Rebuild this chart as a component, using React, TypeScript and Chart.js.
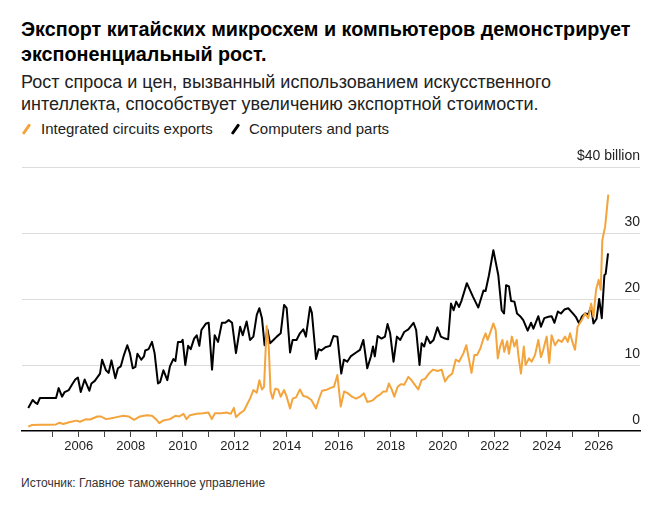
import React, { useEffect, useRef } from 'react';
import { Chart, registerables } from 'chart.js';

Chart.register(...registerables);

// Integrated circuits exports ($bn), x = decimal year
const icYears = [
  2004.06, 2004.19, 2004.51, 2004.8, 2005.13, 2005.26, 2005.41, 2005.67, 2005.92, 2006.05,
  2006.26, 2006.44, 2006.72, 2006.85, 2007.05, 2007.21, 2007.46, 2007.72, 2007.92, 2008.13,
  2008.36, 2008.62, 2008.82, 2008.97, 2009.1, 2009.26, 2009.51, 2009.72, 2009.87, 2010.03,
  2010.15, 2010.28, 2010.54, 2010.79, 2010.99, 2011.12, 2011.24, 2011.5, 2011.69, 2011.85,
  2011.97, 2012.05, 2012.21, 2012.36, 2012.5, 2012.59, 2012.72, 2012.85, 2012.95, 2013.05,
  2013.13, 2013.23, 2013.31, 2013.38, 2013.46, 2013.56, 2013.67, 2013.77, 2013.9, 2014.0,
  2014.13, 2014.23, 2014.36, 2014.51, 2014.64, 2014.77, 2014.95, 2015.13, 2015.23, 2015.36,
  2015.51, 2015.67, 2015.82, 2015.95, 2016.08, 2016.21, 2016.36, 2016.51, 2016.67, 2016.82,
  2016.97, 2017.1, 2017.29, 2017.46, 2017.59, 2017.72, 2017.84, 2017.93, 2018.04, 2018.14,
  2018.27, 2018.39, 2018.52, 2018.68, 2018.8, 2018.93, 2019.06, 2019.19, 2019.32, 2019.47,
  2019.63, 2019.8, 2019.96, 2020.09, 2020.21, 2020.37, 2020.5, 2020.63, 2020.8, 2020.91,
  2021.01, 2021.11, 2021.22, 2021.32, 2021.45, 2021.55, 2021.65, 2021.73, 2021.82, 2021.95,
  2022.04, 2022.12, 2022.21, 2022.3, 2022.37, 2022.48, 2022.55, 2022.66, 2022.76, 2022.85,
  2022.91, 2023.01, 2023.12, 2023.19, 2023.32, 2023.42, 2023.55, 2023.68, 2023.78, 2023.87,
  2024.0, 2024.1, 2024.19, 2024.32, 2024.45, 2024.58, 2024.71, 2024.81, 2024.9, 2024.99,
  2025.09, 2025.19, 2025.35, 2025.48, 2025.6, 2025.71, 2025.8, 2025.9, 2026.0, 2026.08,
  2026.14, 2026.25, 2026.37,
];
const icValues = [
  0.66, 0.9, 0.95, 0.95, 1.0, 1.26, 1.06, 1.36, 1.57, 1.4,
  1.77, 1.75, 2.2, 2.2, 1.8, 1.9, 2.1, 2.3, 2.2, 1.7,
  2.2, 2.4, 2.3, 1.8, 1.2, 1.6, 1.8, 2.3, 2.2, 2.6,
  1.8, 2.4, 2.6, 2.7, 2.8, 1.8, 2.7, 2.7, 2.8, 2.6,
  3.5, 2.1, 2.7, 3.1, 4.2, 4.9, 6.2, 5.8, 7.7, 6.3,
  6.7, 15.9, 12.8, 6.0, 4.9, 6.4, 6.3, 5.2, 6.2, 5.2,
  3.4, 4.9, 5.1, 6.3, 5.3, 5.2, 4.7, 3.4, 4.7, 6.1,
  6.2, 6.5, 6.7, 8.5, 3.7, 6.0, 5.7, 5.2, 4.9, 5.2,
  5.7, 4.4, 4.6, 5.2, 5.5, 6.0, 6.0, 7.2, 6.3, 5.2,
  6.7, 7.1, 7.0, 8.2, 7.7, 7.0, 6.3, 7.7, 7.9, 8.7,
  9.3, 9.1, 9.3, 7.5, 8.2, 8.7, 10.8, 10.5, 11.8, 13.0,
  10.9, 8.8, 11.5, 11.5, 12.5, 13.8, 14.8, 13.8, 14.8, 16.3,
  15.3, 11.0, 12.8, 13.8, 12.0, 13.6, 11.7, 14.3, 12.8, 13.8,
  11.5, 8.7, 12.8, 10.0, 11.0, 10.5, 11.5, 13.8, 11.2, 12.3,
  14.3, 10.3, 14.5, 13.0, 13.8, 13.5, 14.3, 13.5, 14.8, 13.5,
  12.3, 15.8, 16.8, 17.8, 17.1, 19.3, 17.3, 21.4, 22.9, 21.4,
  28.9, 31.0, 35.8,
];

// Computers and parts ($bn)
const compYears = [
  2004.06, 2004.23, 2004.33, 2004.41, 2004.51, 2005.13, 2005.23, 2005.36, 2005.46, 2005.62,
  2005.74, 2005.87, 2005.97, 2006.08, 2006.23, 2006.41, 2006.49, 2006.62, 2006.82, 2006.9,
  2007.05, 2007.15, 2007.26, 2007.41, 2007.51, 2007.62, 2007.74, 2007.87, 2007.97, 2008.08,
  2008.18, 2008.26, 2008.41, 2008.51, 2008.56, 2008.69, 2008.82, 2008.92, 2009.05, 2009.13,
  2009.26, 2009.41, 2009.51, 2009.64, 2009.72, 2009.82, 2009.95, 2010.0, 2010.1, 2010.21,
  2010.31, 2010.44, 2010.54, 2010.64, 2010.72, 2010.9, 2011.0, 2011.13, 2011.23, 2011.36,
  2011.51, 2011.64, 2011.77, 2011.9, 2012.05, 2012.21, 2012.31, 2012.46, 2012.59, 2012.72,
  2012.85, 2012.95, 2013.05, 2013.15, 2013.26, 2013.36, 2013.49, 2013.62, 2013.77, 2013.9,
  2014.0, 2014.13, 2014.23, 2014.38, 2014.51, 2014.64, 2014.74, 2014.9, 2014.97, 2015.13,
  2015.23, 2015.33, 2015.49, 2015.67, 2015.8, 2015.95, 2016.1, 2016.2, 2016.33, 2016.46,
  2016.67, 2016.82, 2016.95, 2017.1, 2017.24, 2017.32, 2017.39, 2017.5, 2017.65, 2017.78,
  2017.88, 2017.98, 2018.11, 2018.24, 2018.37, 2018.52, 2018.68, 2018.88, 2018.98, 2019.11,
  2019.19, 2019.29, 2019.39, 2019.52, 2019.65, 2019.8, 2019.93, 2020.09, 2020.21, 2020.32,
  2020.42, 2020.52, 2020.63, 2020.73, 2020.93, 2021.16, 2021.37, 2021.57, 2021.65, 2021.78,
  2021.95, 2022.14, 2022.27, 2022.36, 2022.44, 2022.55, 2022.63, 2022.76, 2022.86, 2022.98,
  2023.1, 2023.27, 2023.4, 2023.49, 2023.68, 2023.78, 2023.91, 2024.07, 2024.19, 2024.3,
  2024.43, 2024.55, 2024.68, 2024.83, 2024.99, 2025.12, 2025.25, 2025.35, 2025.48, 2025.6,
  2025.71, 2025.8, 2025.92, 2026.02, 2026.12, 2026.22, 2026.27, 2026.36,
];
const compValues = [
  3.5, 4.7, 4.3, 4.1, 5.0, 5.0, 6.5, 5.2, 5.9, 6.2,
  7.0, 7.8, 8.1, 5.9, 7.8, 6.1, 7.2, 7.6, 8.7, 10.8,
  9.2, 8.8, 10.7, 8.0, 9.5, 9.8, 11.5, 13.0, 11.8, 9.5,
  9.7, 11.7, 10.8, 11.3, 12.2, 12.4, 13.5, 11.8, 7.2, 7.4,
  9.2, 7.7, 9.8, 10.9, 10.6, 13.5, 13.5, 13.8, 10.0, 12.9,
  12.4, 14.0, 14.5, 12.9, 15.3, 16.3, 16.4, 9.3, 14.5, 13.5,
  16.4, 16.4, 16.8, 16.4, 11.8, 15.8, 14.5, 16.6, 13.8, 14.3,
  17.6, 18.6, 17.1, 13.0, 15.4, 13.3, 13.8, 14.3, 14.8, 19.1,
  18.6, 11.9, 13.8, 13.8, 14.8, 15.4, 14.3, 18.8, 17.9, 10.9,
  12.4, 12.2, 12.7, 12.9, 14.4, 14.3, 8.7, 10.8, 10.5, 11.3,
  11.9, 12.3, 13.8, 9.5, 11.3, 12.8, 11.3, 14.4, 14.0, 14.3,
  16.2, 14.8, 10.5, 14.3, 13.8, 15.0, 15.4, 16.4, 15.3, 10.0,
  13.3, 12.8, 14.3, 13.3, 13.8, 15.7, 14.3, 14.0, 13.9, 19.3,
  18.3, 19.6, 18.8, 19.8, 22.4, 20.4, 18.7, 21.3, 21.2, 23.6,
  27.4, 23.6, 18.3, 17.8, 22.1, 21.9, 19.7, 19.6, 17.8, 17.4,
  16.8, 15.2, 16.4, 15.5, 17.4, 15.8, 17.1, 17.3, 17.4, 16.4,
  18.1, 17.8, 18.4, 18.6, 17.9, 17.3, 16.3, 17.3, 17.8, 17.7,
  18.8, 16.3, 17.0, 20.0, 17.1, 23.6, 23.8, 26.9,
];

const xTickYears = [
  2005, 2006, 2007, 2008, 2009, 2010, 2011, 2012, 2013, 2014, 2015,
  2016, 2017, 2018, 2019, 2020, 2021, 2022, 2023, 2024, 2025, 2026,
];
const yTickValues = [0, 10, 20, 30, 40];

const FONT = "'Liberation Sans', Arial, Helvetica, sans-serif";
const ORANGE = '#f4a43c';

function Slash({ color, left }: { color: string; left: number }) {
  return (
    <div
      style={{
        position: 'absolute',
        left,
        top: 123,
        width: 2.5,
        height: 12,
        background: color,
        transform: 'rotate(35deg)',
        borderRadius: 1,
      }}
    />
  );
}

export default function App() {
  const canvasRef = useRef<HTMLCanvasElement>(null);

  useEffect(() => {
    const canvas = canvasRef.current;
    if (!canvas) return;
    const chart = new Chart(canvas, {
      type: 'line',
      data: {
        datasets: [
          {
            label: 'Integrated circuits exports',
            data: icYears.map((x, i) => ({ x, y: icValues[i] })),
            borderColor: ORANGE,
            borderWidth: 2,
            pointRadius: 0,
            tension: 0,
            borderJoinStyle: 'round',
            fill: false,
          },
          {
            label: 'Computers and parts',
            data: compYears.map((x, i) => ({ x, y: compValues[i] })),
            borderColor: '#000000',
            borderWidth: 2,
            pointRadius: 0,
            tension: 0,
            borderJoinStyle: 'round',
            fill: false,
          },
        ],
      },
      options: {
        animation: false,
        responsive: false,
        maintainAspectRatio: false,
        layout: { padding: { left: 22, right: 27, top: 27, bottom: 0 } },
        plugins: {
          legend: { display: false },
          tooltip: { enabled: false },
        },
        scales: {
          x: {
            type: 'linear',
            min: 2003.82,
            max: 2027.59,
            afterBuildTicks: (s: any) => {
              s.ticks = xTickYears.map((v) => ({ value: v }));
            },
            afterFit: (s: any) => {
              s.height = 40;
            },
            grid: {
              drawOnChartArea: false,
              drawTicks: true,
              tickLength: 6,
              color: '#444',
              lineWidth: 1,
            },
            border: { display: true, color: '#000', width: 1.5 },
            ticks: {
              autoSkip: false,
              maxRotation: 0,
              padding: 2,
              color: '#222',
              font: { family: FONT, size: 13 },
              callback: (v: any) => (Number(v) % 2 === 0 ? String(v) : ''),
            },
          },
          y: {
            position: 'right',
            min: 0,
            max: 40,
            afterBuildTicks: (s: any) => {
              s.ticks = yTickValues.map((v) => ({ value: v }));
            },
            afterFit: (s: any) => {
              s.width = 0;
            },
            grid: {
              drawTicks: false,
              lineWidth: 1,
              color: (ctx: any) => (ctx.tick && ctx.tick.value === 0 ? 'rgba(0,0,0,0)' : '#dcdcdc'),
            },
            border: { display: false },
            ticks: {
              mirror: true,
              padding: 0,
              labelOffset: -11,
              color: '#222',
              font: { family: FONT, size: 14 },
              callback: (v: any) => (Number(v) === 40 ? '$40 billion' : String(v)),
            },
          },
        },
      },
    });
    return () => chart.destroy();
  }, []);

  return (
    <div
      style={{
        position: 'absolute',
        left: 0,
        top: 0,
        width: 667,
        height: 507,
        background: '#fff',
        fontFamily: FONT,
        overflow: 'hidden',
      }}
    >
      <div
        style={{
          position: 'absolute',
          left: 21,
          top: 17,
          fontSize: 19.8,
          fontWeight: 'bold',
          lineHeight: '25px',
          color: '#000',
          whiteSpace: 'nowrap',
        }}
      >
        <div>Экспорт китайских микросхем и компьютеров демонстрирует</div>
        <div>экспоненциальный рост.</div>
      </div>
      <div
        style={{
          position: 'absolute',
          left: 21,
          top: 71,
          fontSize: 18,
          lineHeight: '22px',
          color: '#222',
          whiteSpace: 'nowrap',
        }}
      >
        <div>Рост спроса и цен, вызванный использованием искусственного</div>
        <div>интеллекта, способствует увеличению экспортной стоимости.</div>
      </div>
      <Slash color={ORANGE} left={25} />
      <div style={{ position: 'absolute', left: 41, top: 120, fontSize: 15, lineHeight: '18px', color: '#222', whiteSpace: 'nowrap' }}>
        Integrated circuits exports
      </div>
      <Slash color="#000" left={234} />
      <div style={{ position: 'absolute', left: 249, top: 120, fontSize: 15, lineHeight: '18px', color: '#222', whiteSpace: 'nowrap' }}>
        Computers and parts
      </div>
      <canvas
        ref={canvasRef}
        width={667}
        height={331}
        style={{ position: 'absolute', left: 0, top: 140, width: 667, height: 331, display: 'block' }}
      />
      <div
        style={{
          position: 'absolute',
          left: 21,
          top: 476,
          fontSize: 12,
          lineHeight: '15px',
          color: '#333',
          whiteSpace: 'nowrap',
        }}
      >
        Источник: Главное таможенное управление
      </div>
    </div>
  );
}
